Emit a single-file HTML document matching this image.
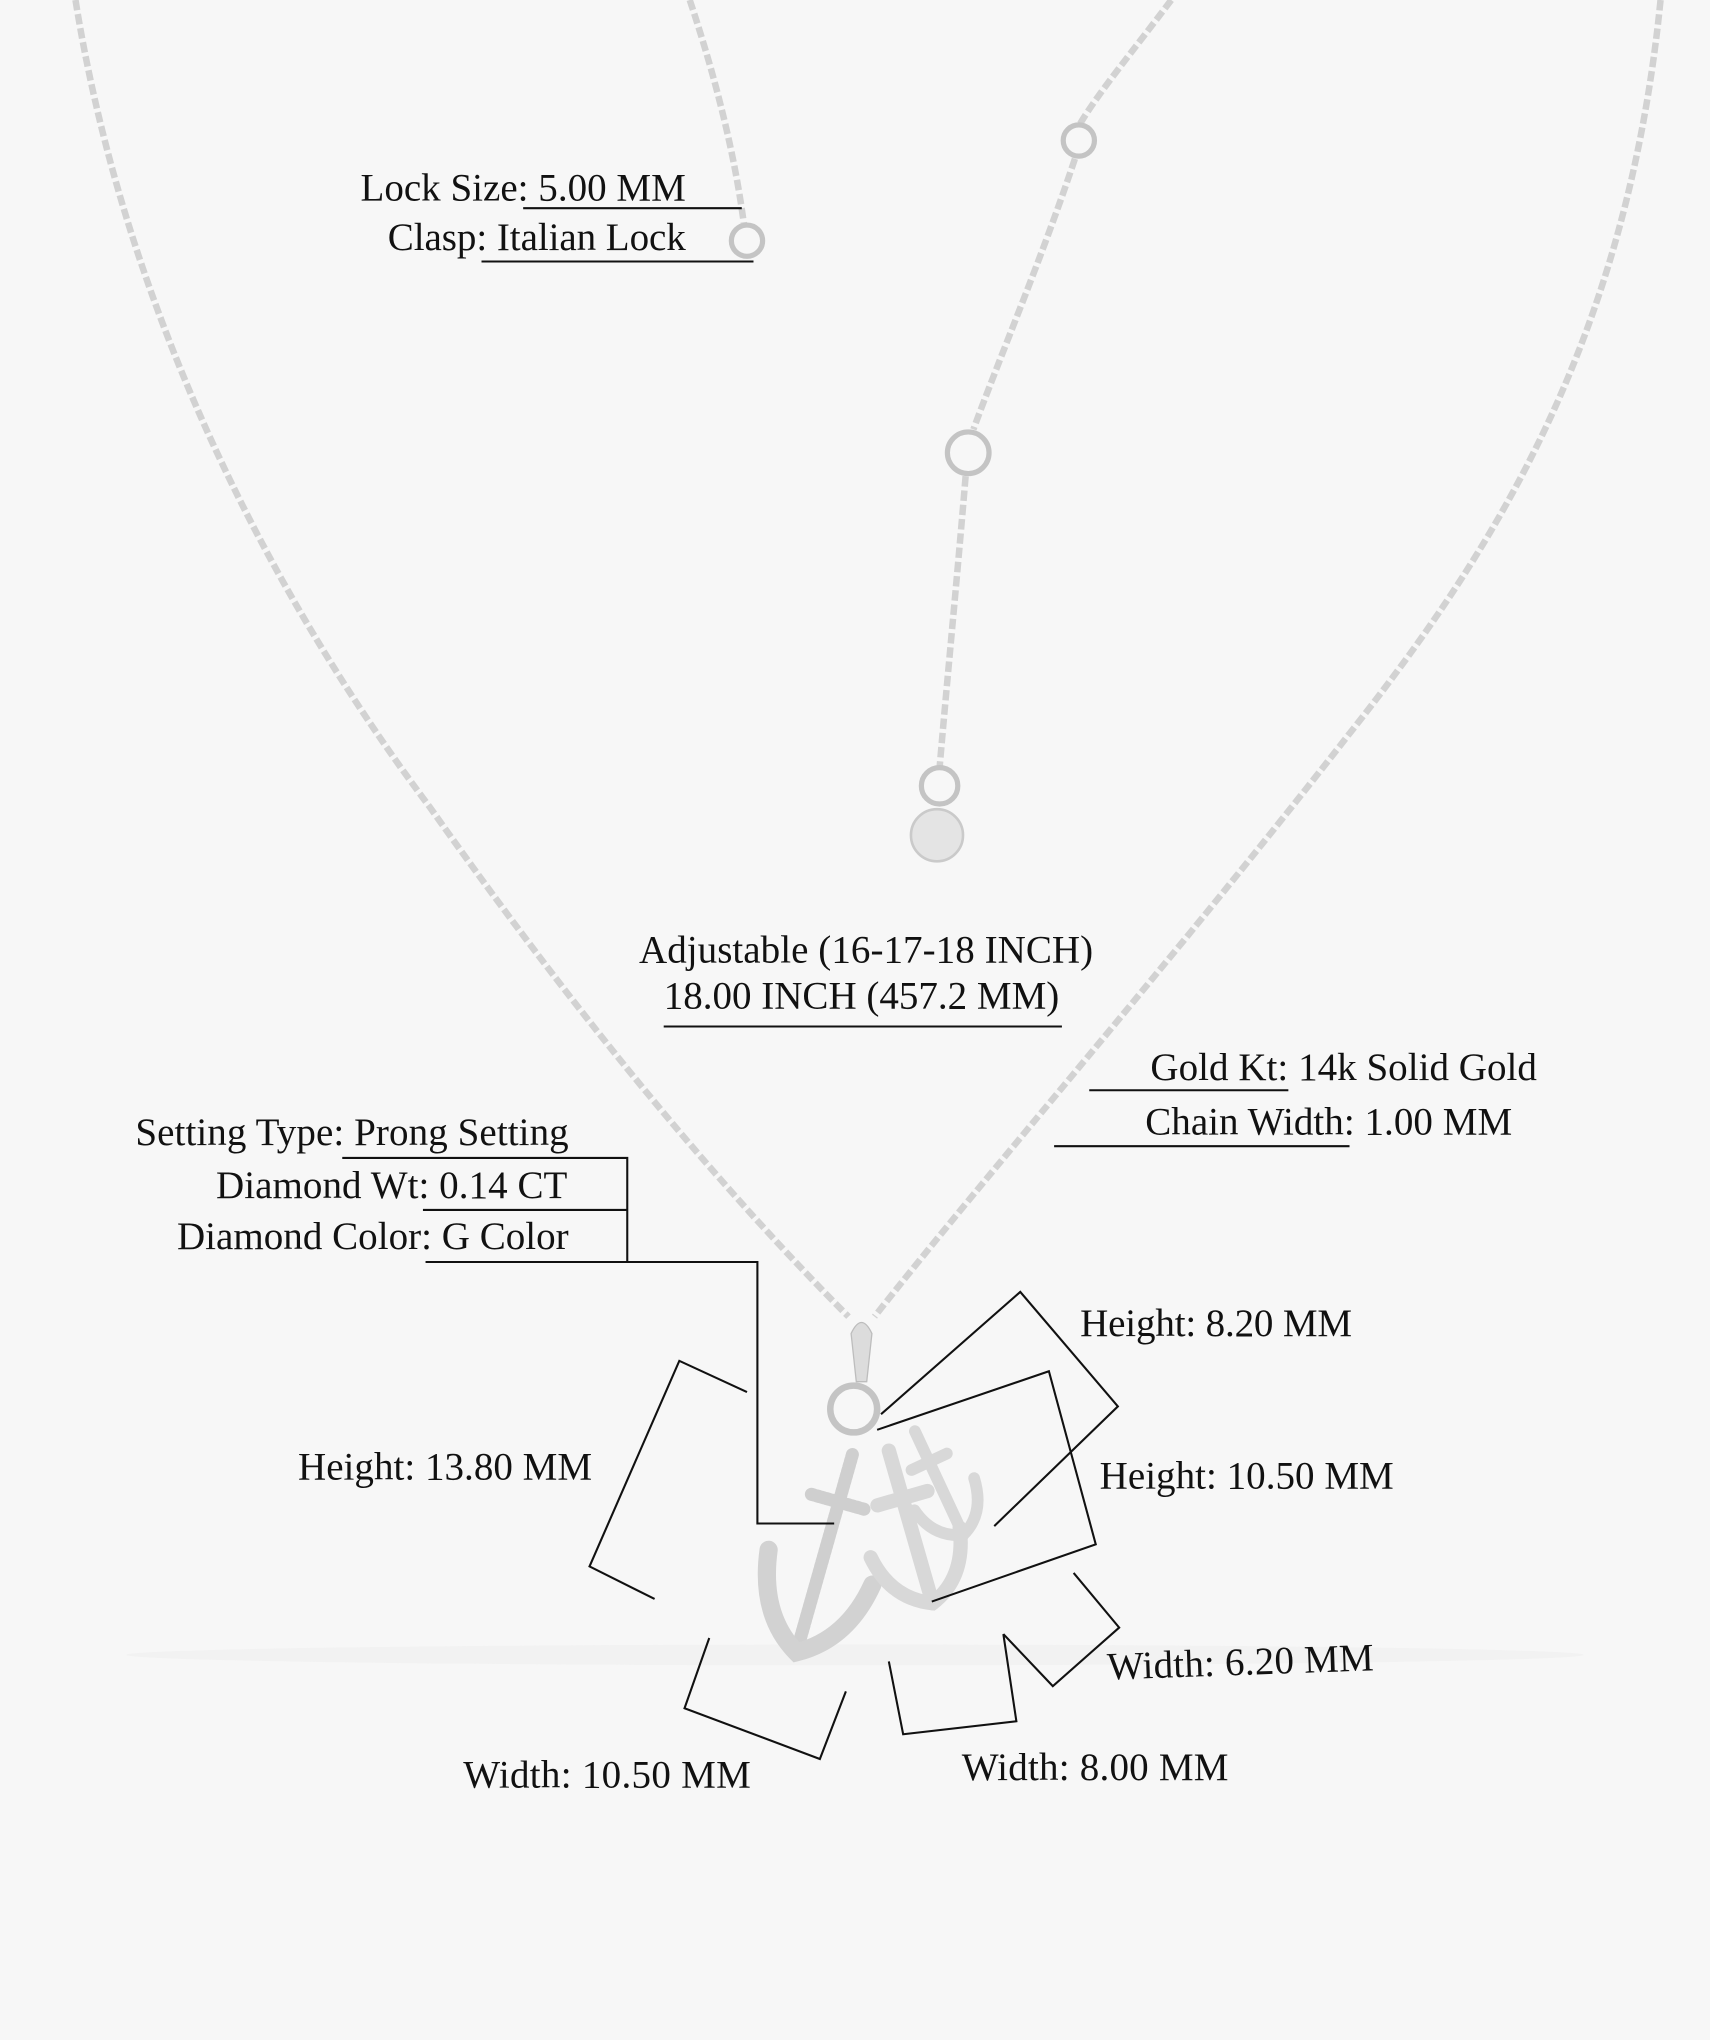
<!DOCTYPE html>
<html><head><meta charset="utf-8"><style>
html,body{margin:0;padding:0;background:#f7f7f7;}
svg{display:block;}
text{font-family:"Liberation Serif",serif;font-size:30px;fill:#111;}
</style></head><body>
<svg width="1710" height="2040" viewBox="0 0 1314 1568" preserveAspectRatio="none" xmlns="http://www.w3.org/2000/svg">
<rect width="1314" height="1568" fill="#f7f7f7"/>
<ellipse cx="657" cy="1272" rx="560" ry="8" fill="#f2f2f2"/>
<g fill="none" stroke="#d2d2d2" stroke-width="5" stroke-dasharray="8 3">
<path d="M58 0 C90 200 180 420 330 620 C450 790 560 920 652 1012"/>
<path d="M1276 0 C1250 260 1150 420 1040 560 C900 740 760 900 672 1012"/>
<path d="M530 0 C550 60 565 120 572 175"/>
<path d="M900 0 C870 40 845 70 830 95 M826 122 C800 200 770 270 748 330 M742 366 C735 450 728 520 722 590"/>
</g>
<g fill="none" stroke="#c4c4c4" stroke-width="4">
<circle cx="574" cy="185" r="12"/>
<circle cx="829" cy="108" r="12"/>
<circle cx="744" cy="348" r="16"/>
<circle cx="722" cy="604" r="14"/>
<circle cx="656" cy="1083" r="18" stroke-width="5"/>
</g>
<circle cx="720" cy="642" r="20" fill="#e4e4e4" stroke="#cacaca" stroke-width="2"/>
<path d="M654 1025 Q662 1008 670 1025 L666 1062 L658 1062 Z" fill="#dcdcdc" stroke="#bdbdbd"/>
<g fill="none" stroke="#d2d2d2" stroke-linecap="round">
<g transform="translate(655,1118) rotate(15.8)" stroke-width="10">
<path d="M0 0 L0 158 M-22 38 L22 38" stroke-dasharray="2 2" stroke="#cfcfcf"/>
<path d="M-42 88 Q-35 138 0 158 Q35 138 42 92" stroke-width="14"/>
</g>
<g transform="translate(683,1115) rotate(-16)" stroke-width="11" stroke="#d8d8d8">
<path d="M0 0 L0 122 M-20 38 L20 38"/>
<path d="M-36 75 Q-30 110 0 122 Q30 110 36 72"/>
</g>
<g transform="translate(703,1100) rotate(-25)" stroke-width="9" stroke="#d8d8d8">
<path d="M0 0 L0 88 M-15 26 L15 26"/>
<path d="M-26 55 Q-22 80 0 88 Q22 80 26 52"/>
</g>
</g>
<g fill="none" stroke="#111" stroke-width="1.6">
<path d="M402 160 H570 M370 201 H579"/>
<path d="M510 789 H816"/>
<path d="M837 838 H990 M810 881 H1037"/>
<path d="M263 890 H482 V970 M325 930 H482 M327 970 H582 V1171 H641"/>
<path d="M574 1070 L522 1046 L453 1204 L503 1229"/>
<path d="M677 1087 L784 993 L859 1081 L764 1173"/>
<path d="M674 1099 L806 1054 L842 1187 L716 1231"/>
<path d="M825 1209 L860 1251 L809 1296 L771 1256"/>
<path d="M683 1277 L694 1333 L781 1323 L771 1256"/>
<path d="M545 1259 L526 1313 L630 1352 L650 1300"/>
</g>
<text x="527" y="154" text-anchor="end" textLength="250">Lock Size: 5.00 MM</text>
<text x="527" y="192" text-anchor="end" textLength="229">Clasp: Italian Lock</text>
<text x="491" y="740" textLength="349">Adjustable (16-17-18 INCH)</text>
<text x="510" y="775" textLength="304">18.00 INCH (457.2 MM)</text>
<text x="884" y="830" textLength="297">Gold Kt: 14k Solid Gold</text>
<text x="880" y="872" textLength="282">Chain Width: 1.00 MM</text>
<text x="104" y="880" textLength="333">Setting Type: Prong Setting</text>
<text x="166" y="921" textLength="270">Diamond Wt: 0.14 CT</text>
<text x="136" y="960" textLength="301">Diamond Color: G Color</text>
<text x="830" y="1027" textLength="209">Height: 8.20 MM</text>
<text x="229" y="1137" textLength="226">Height: 13.80 MM</text>
<text x="845" y="1144" textLength="226">Height: 10.50 MM</text>
<text x="851" y="1291" transform="rotate(-2 851 1291)" textLength="205">Width: 6.20 MM</text>
<text x="356" y="1374" textLength="221">Width: 10.50 MM</text>
<text x="739" y="1368" textLength="205">Width: 8.00 MM</text>
</svg>
</body></html>
